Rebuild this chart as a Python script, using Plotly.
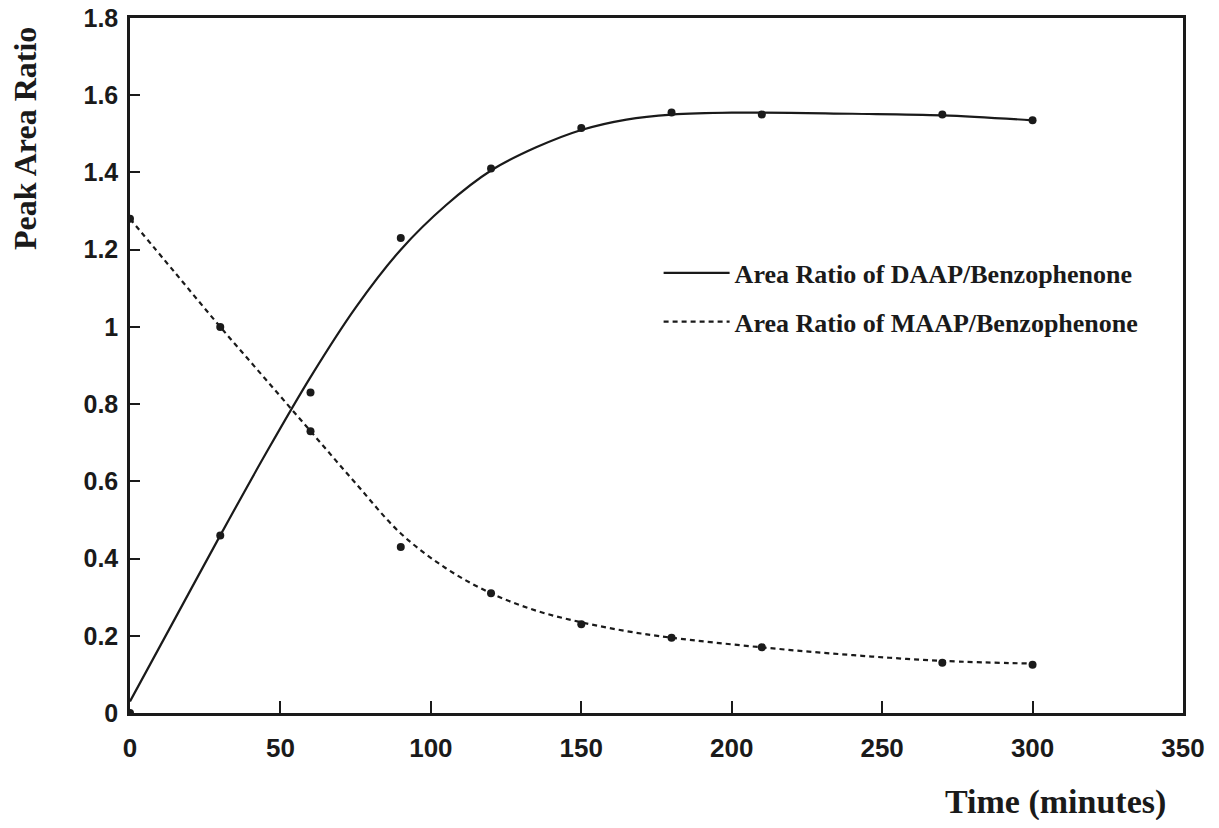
import plotly.graph_objects as go

# measured data points
time_pts = [0, 30, 60, 90, 120, 150, 180, 210, 270, 300]
daap_pts = [0.0, 0.46, 0.83, 1.23, 1.41, 1.515, 1.555, 1.55, 1.55, 1.535]
maap_pts = [1.28, 1.0, 0.73, 0.43, 0.31, 0.23, 0.195, 0.17, 0.13, 0.125]

# fitted curves
fit_time = [0, 15, 30, 45, 60, 75, 90, 105, 120, 135, 150, 165, 180, 200, 240, 270, 300]
daap_fit = [0.03, 0.245, 0.46, 0.67, 0.87, 1.05, 1.2, 1.315, 1.405, 1.465, 1.51, 1.537, 1.55, 1.555, 1.552, 1.548, 1.535]
fit_time_m = [0, 15, 30, 45, 60, 75, 90, 105, 120, 135, 150, 165, 180, 210, 240, 270, 300]
maap_fit = [1.28, 1.14, 1.0, 0.865, 0.73, 0.595, 0.465, 0.375, 0.31, 0.265, 0.235, 0.212, 0.195, 0.17, 0.15, 0.135, 0.128]

x_ticks = [0, 50, 100, 150, 200, 250, 300, 350]
y_ticks = [0, 0.2, 0.4, 0.6, 0.8, 1.0, 1.2, 1.4, 1.6, 1.8]
y_tick_text = ["0", "0.2", "0.4", "0.6", "0.8", "1", "1.2", "1.4", "1.6", "1.8"]

serif = "Liberation Serif"
sans = "Liberation Sans"
ink = "#1a1a1a"

fig = go.Figure()
fig.add_trace(go.Scatter(
    x=fit_time, y=daap_fit, mode="lines", line=dict(color=ink, width=2.2, shape="spline"),
    name="Area Ratio of DAAP/Benzophenone", legendgroup="a"))
fig.add_trace(go.Scatter(
    x=fit_time_m, y=maap_fit, mode="lines",
    line=dict(color=ink, width=2.2, shape="spline", dash="5px,4px"),
    name="Area Ratio of MAAP/Benzophenone", legendgroup="b"))
fig.add_trace(go.Scatter(
    x=time_pts, y=daap_pts, mode="markers", marker=dict(color=ink, size=8, symbol="circle"),
    showlegend=False))
fig.add_trace(go.Scatter(
    x=time_pts, y=maap_pts, mode="markers", marker=dict(color=ink, size=8, symbol="circle"),
    showlegend=False))

fig.update_layout(
    width=1203, height=812,
    margin=dict(l=122, r=28, t=10, b=107),
    paper_bgcolor="white", plot_bgcolor="white",
    showlegend=True,
    legend=dict(x=0.502, y=0.598, xanchor="left", yanchor="middle",
                bgcolor="rgba(0,0,0,0)", tracegroupgap=12,
                font=dict(family=serif, size=26, color=ink, weight="bold"),
                itemwidth=66),
    xaxis=dict(range=[0, 350], tickvals=x_ticks, ticks="inside", ticklen=12, tickwidth=2,
               tickcolor=ink, showline=True, linecolor=ink, linewidth=2.5, automargin=False,
               mirror=True, showgrid=False, zeroline=False, ticklabeloverflow="allow",
               tickfont=dict(family=sans, size=26, color=ink, weight="bold"), ticklabelstandoff=10),
    yaxis=dict(range=[0, 1.8], tickvals=y_ticks, ticktext=y_tick_text, ticks="inside",
               ticklen=10, tickwidth=2, tickcolor=ink, showline=True, ticklabeloverflow="allow",
               linecolor=ink, linewidth=2.5, mirror=True, showgrid=False, zeroline=False,
               automargin=False,
               tickfont=dict(family=sans, size=25, color=ink, weight="bold"), ticklabelstandoff=4),
    annotations=[
        dict(text="<b>Peak Area Ratio</b>", xref="paper", yref="paper", x=-0.0996, y=0.826,
             xanchor="center", yanchor="middle", textangle=-90, showarrow=False,
             font=dict(family=serif, size=32, color=ink)),
        dict(text="<b>Time (minutes)</b>", xref="paper", yref="paper", x=0.986, y=-0.128,
             xanchor="right", yanchor="middle", showarrow=False,
             font=dict(family=serif, size=34, color=ink)),
    ],
)

fig.write_html("out.html")
